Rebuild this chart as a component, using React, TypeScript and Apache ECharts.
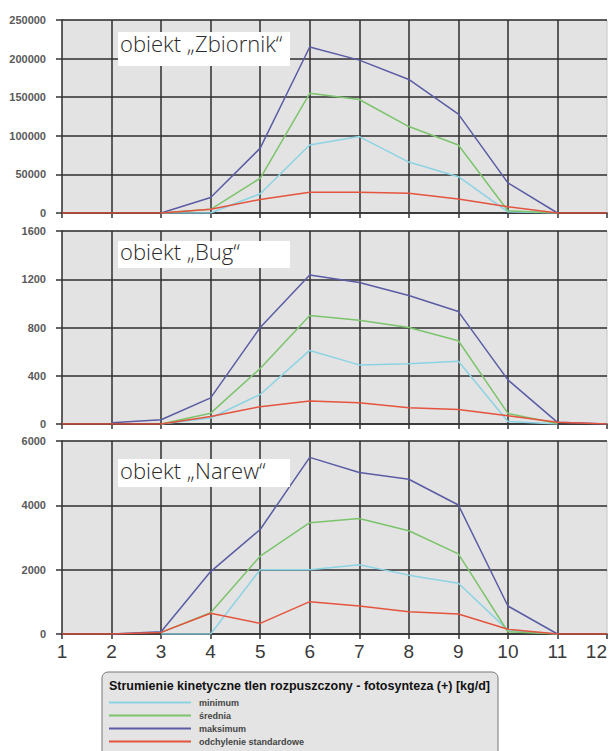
import React, { useEffect, useRef } from "react";
import * as echarts from "echarts";

const categories = ["1", "2", "3", "4", "5", "6", "7", "8", "9", "10", "11", "12"];
const seriesNames = ["minimum", "średnia", "maksimum", "odchylenie standardowe"];
const seriesColors = ["#8cd3e4", "#7cc46c", "#5a5ca4", "#e4543e"];

// obiekt „Zbiornik"
const zbMin = [null, null, 0, 0, 25000, 88000, 99000, 66000, 47000, 1500, 0, null];
const zbAvg = [null, null, 0, 4800, 45000, 155000, 147000, 112000, 88000, 3000, 0, null];
const zbMax = [null, null, 0, 20000, 84000, 215000, 198000, 173000, 128000, 39000, 0, null];
const zbStd = [0, 0, 0, 5000, 17500, 27000, 27000, 25500, 18000, 8000, 0, 0];

// obiekt „Bug"
const bugMin = [null, null, 0, 50, 245, 610, 490, 500, 520, 20, 0, null];
const bugAvg = [null, null, 0, 90, 460, 900, 860, 800, 690, 88, 5, null];
const bugMax = [null, 10, 35, 217, 800, 1235, 1173, 1065, 932, 366, 14, 0];
const bugStd = [0, 0, 0, 62, 144, 190, 176, 135, 121, 68, 14, 0];

// obiekt „Narew"
const nrMin = [null, null, 0, 0, 2000, 2000, 2150, 1830, 1580, 120, 0, null];
const nrAvg = [null, null, 50, 660, 2420, 3460, 3590, 3210, 2490, 70, 0, null];
const nrMax = [null, 0, 70, 1940, 3250, 5490, 5020, 4810, 4010, 870, 0, null];
const nrStd = [0, 0, 50, 645, 330, 1005, 870, 695, 620, 145, 0, 0];

const panelTitles = ["obiekt „Zbiornik“", "obiekt „Bug“", "obiekt „Narew“"];
const yMax = [250000, 1600, 6000];
const yInterval = [50000, 400, 2000];
const legendTitle = "Strumienie kinetyczne tlen rozpuszczony - fotosynteza (+) [kg/d]";

const panels = [
  [zbMin, zbAvg, zbMax, zbStd],
  [bugMin, bugAvg, bugMax, bugStd],
  [nrMin, nrAvg, nrMax, nrStd],
];

export default function App() {
  const ref = useRef<HTMLDivElement>(null);
  useEffect(() => {
    if (!ref.current) return;
    const chart = echarts.init(ref.current, null, { renderer: "svg" });
    const gridTops = [20, 231, 441];
    const gridH = 193;
    const boxes = [
      { y: 32, h: 34, ty: 43 },
      { y: 241, h: 27, ty: 251 },
      { y: 459, h: 28, ty: 470 },
    ];
    const series: any[] = [];
    panels.forEach((p, gi) => {
      p.forEach((data, si) => {
        series.push({
          type: "line",
          name: seriesNames[si],
          xAxisIndex: gi,
          yAxisIndex: gi,
          data,
          symbol: "none",
          showSymbol: false,
          connectNulls: false,
          color: seriesColors[si],
          lineStyle: { width: 1.5, color: seriesColors[si] },
        });
      });
    });
    const graphic: any[] = [];
    boxes.forEach((b, i) => {
      graphic.push({
        type: "rect",
        z: 100,
        shape: { x: 118, y: b.y, width: 172, height: b.h },
        style: { fill: "#ffffff" },
      });
      graphic.push({
        type: "text",
        z: 101,
        x: 120,
        y: b.ty,
        style: {
          text: panelTitles[i],
          fontFamily: "Open Sans",
          fontWeight: 300,
          fontSize: 22,
          fill: "#2a2a2a",
          verticalAlign: "middle",
        },
      });
    });
    graphic.push({
      type: "rect",
      z: 1,
      shape: { x: 102, y: 672, width: 396, height: 95, r: 6 },
      style: { fill: "#e4e4e4", stroke: "#777", lineWidth: 1 },
    });
    graphic.push({
      type: "text",
      z: 2,
      x: 109,
      y: 686,
      style: {
        text: legendTitle,
        fontFamily: "Liberation Sans",
        fontWeight: "bold",
        fontSize: 12.5,
        fill: "#111",
        verticalAlign: "middle",
      },
    });

    chart.setOption({
      animation: false,
      textStyle: { fontFamily: "Liberation Sans" },
      grid: gridTops.map((t) => ({
        left: 62,
        right: 3,
        top: t,
        height: gridH,
        show: true,
        backgroundColor: "#e3e3e3",
        borderColor: "#c4c4c4",
        borderWidth: 1,
      })),
      xAxis: gridTops.map((_, i) => ({
        type: "category",
        gridIndex: i,
        data: categories,
        boundaryGap: false,
        axisLine: { show: true, lineStyle: { color: "#333", width: 1.5 } },
        axisTick: { show: true, length: 5, interval: 0, lineStyle: { color: "#333", width: 1.5 } },
        axisLabel: {
          show: i === 2,
          interval: 0,
          fontSize: 19,
          color: "#3a3a3a",
          margin: 8,
          alignMaxLabel: "right",
        },
        splitLine: {
          show: true,
          interval: (idx: number) => idx !== 0 && idx !== 11,
          lineStyle: { color: "#2e2e2e", width: 1.5 },
        },
      })),
      yAxis: gridTops.map((_, i) => ({
        type: "value",
        gridIndex: i,
        min: 0,
        max: yMax[i],
        interval: yInterval[i],
        axisLine: { show: true, lineStyle: { color: "#333", width: 1.5 } },
        axisTick: { show: true, length: 6, lineStyle: { color: "#333", width: 1.5 } },
        axisLabel: {
          fontSize: 11,
          fontWeight: "bold",
          color: "#5a5a5a",
          margin: 16,
          formatter: (v: number) => String(v),
        },
        splitLine: { show: true, lineStyle: { color: "#2e2e2e", width: 1.5 } },
      })),
      legend: {
        data: seriesNames,
        orient: "vertical",
        left: 103,
        top: 693,
        itemWidth: 82,
        itemHeight: 11,
        itemGap: 4,
        selectedMode: false,
        z: 5,
        itemStyle: { opacity: 0 },
        textStyle: { fontSize: 9, fontWeight: "bold", color: "#444", padding: [0, 0, 0, 3] },
      },
      graphic,
      series,
    });
    return () => chart.dispose();
  }, []);
  return (
    <div
      ref={ref}
      style={{ position: "fixed", left: 0, top: 0, width: 610, height: 751, background: "#fff" }}
    />
  );
}
